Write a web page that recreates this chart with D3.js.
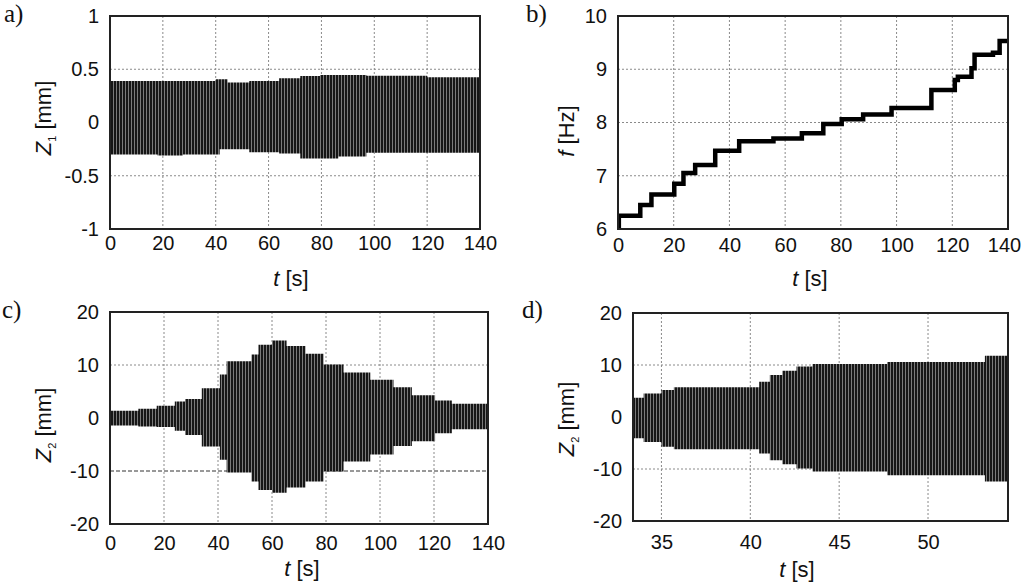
<!DOCTYPE html>
<html>
<head>
<meta charset="utf-8">
<script src="https://cdn.jsdelivr.net/npm/d3@7"></script>
<style>
  body { margin: 0; background: #fff; }
  svg { display: block; }
</style>
</head>
<body>
<script>
// panel a) - envelope of Z1 response (steps read from the picture)
const A_T     = [0, 18, 27.6, 40, 41.5, 44.5, 52.7, 64, 68, 72, 79.5, 86.4, 97, 120, 140];
const A_UPPER = [0.39, 0.39, 0.39, 0.405, 0.405, 0.375, 0.39, 0.415, 0.415, 0.437, 0.446, 0.446, 0.44, 0.425, 0.425];
const A_LOWER = [-0.30, -0.31, -0.30, -0.30, -0.25, -0.25, -0.28, -0.29, -0.29, -0.337, -0.337, -0.32, -0.283, -0.283, -0.283];

// panel b) - excitation frequency steps
const B_T = [0, 0.3, 8, 12, 20.2, 23.5, 27.7, 34.9, 43.5, 55.8, 66, 73.7, 80.3, 88, 98.2, 112.5, 120.9, 122, 126.9, 128, 134.6, 137, 140];
const B_F = [6.0, 6.25, 6.45, 6.65, 6.85, 7.05, 7.2, 7.47, 7.65, 7.7, 7.8, 7.97, 8.06, 8.15, 8.27, 8.61, 8.8, 8.86, 9.02, 9.27, 9.31, 9.53, 9.53];

// panel c) - envelope of Z2 response
const C_T     = [0, 10.5, 17.3, 24, 27.8, 34, 40.7, 43.2, 52.4, 55, 60, 65.4, 72.4, 79.1, 86.5, 96.4, 105, 111.8, 120.4, 126.6, 140];
const C_UPPER = [1.36, 1.74, 2.3, 3.1, 3.6, 5.6, 8.2, 10.7, 12, 13.8, 14.6, 13.6, 12.1, 10.1, 8.6, 7.2, 5.8, 4.3, 3.3, 2.7, 2.7];
const C_LOWER = [-1.4, -1.6, -1.7, -2.4, -3.2, -5.4, -7.9, -10.3, -12, -13.6, -14.1, -13.1, -12, -10.1, -8.2, -6.9, -5.3, -4.4, -2.9, -2.1, -2.1];

// panel d) - zoom of Z2 between 33 and 55 s
const D_T     = [33.4, 34, 35, 35.7, 40.5, 41.1, 41.8, 42.6, 43.5, 47.7, 53.2, 54.5];
const D_UPPER = [3.7, 4.5, 5.2, 5.7, 6.8, 8.1, 8.9, 9.7, 10.2, 10.6, 11.8, 11.8];
const D_LOWER = [-4.1, -4.8, -5.7, -6.2, -7.0, -8.3, -9.1, -9.9, -10.5, -11.2, -12.4, -12.4];

// tick labels
const T_TICKS  = [0, 20, 40, 60, 80, 100, 120, 140];
const D_TICKS  = [35, 40, 45, 50];
const Z1_TICKS = [-1, -0.5, 0, 0.5, 1];
const F_TICKS  = [6, 7, 8, 9, 10];
const Z2_TICKS = [-20, -10, 0, 10, 20];

const WIDTH = 1023, HEIGHT = 583;
const SANS = "'Liberation Sans', Arial, sans-serif";
const SERIF = "'Liberation Serif', 'Times New Roman', serif";

const svg = d3.select("body").append("svg")
    .attr("width", WIDTH)
    .attr("height", HEIGHT);

// dense oscillation look: dark fill with thin light stripes
const defs = svg.append("defs");
const pat = defs.append("pattern")
    .attr("id", "osc")
    .attr("patternUnits", "userSpaceOnUse")
    .attr("width", 3)
    .attr("height", 10);
pat.append("rect").attr("width", 3).attr("height", 10).attr("fill", "#161616");
pat.append("rect").attr("x", 2).attr("width", 1).attr("height", 10).attr("fill", "#7a7a7a");

function panel(p) {
    const x = d3.scaleLinear().domain(p.xDomain).range([p.left, p.right]);
    const y = d3.scaleLinear().domain(p.yDomain).range([p.bottom, p.top]);
    const g = svg.append("g");

    defs.append("clipPath").attr("id", "clip-" + p.id)
        .append("rect")
        .attr("x", p.left).attr("y", p.top)
        .attr("width", p.right - p.left).attr("height", p.bottom - p.top);

    // dotted grid
    g.append("g").selectAll("line")
        .data(p.xTicks.filter(d => x(d) > p.left + 2 && x(d) < p.right - 2))
        .enter().append("line")
            .attr("x1", d => x(d)).attr("x2", d => x(d))
            .attr("y1", p.top).attr("y2", p.bottom)
            .attr("stroke", "#8a8a8a").attr("stroke-width", 1)
            .attr("stroke-dasharray", "2,2");
    g.append("g").selectAll("line")
        .data(p.yTicks.filter(d => y(d) > p.top + 2 && y(d) < p.bottom - 2))
        .enter().append("line")
            .attr("x1", p.left).attr("x2", p.right)
            .attr("y1", d => y(d)).attr("y2", d => y(d))
            .attr("stroke", d => (p.darkGrid === d ? "#333" : "#8a8a8a"))
            .attr("stroke-width", 1)
            .attr("stroke-dasharray", d => (p.darkGrid === d ? "4,2" : "2,2"));

    // data
    const plot = g.append("g").attr("clip-path", "url(#clip-" + p.id + ")");
    if (p.upper) {
        const rows = p.t.map((t, i) => ({t: t, hi: p.upper[i], lo: p.lower[i]}));
        const area = d3.area()
            .curve(d3.curveStepAfter)
            .x(d => x(d.t))
            .y0(d => y(d.lo))
            .y1(d => y(d.hi));
        plot.append("path")
            .datum(rows)
            .attr("d", area)
            .attr("fill", "url(#osc)");
    } else {
        const rows = p.t.map((t, i) => ({t: t, v: p.values[i]}));
        const line = d3.line()
            .curve(d3.curveStepAfter)
            .x(d => x(d.t))
            .y(d => y(d.v));
        plot.append("path")
            .datum(rows)
            .attr("d", line)
            .attr("fill", "none")
            .attr("stroke", "#000")
            .attr("stroke-width", 4.5)
            .attr("stroke-linecap", "square");
    }

    // frame
    g.append("rect")
        .attr("x", p.left).attr("y", p.top)
        .attr("width", p.right - p.left).attr("height", p.bottom - p.top)
        .attr("fill", "none").attr("stroke", "#222").attr("stroke-width", 2);

    // axes (labels only)
    const xa = g.append("g")
        .attr("transform", "translate(0," + p.bottom + ")")
        .call(d3.axisBottom(x).tickValues(p.xTicks).tickSize(0).tickPadding(p.xPad)
            .tickFormat(d => String(d)));
    const ya = g.append("g")
        .attr("transform", "translate(" + p.left + ",0)")
        .call(d3.axisLeft(y).tickValues(p.yTicks).tickSize(0).tickPadding(11)
            .tickFormat(d => String(d)));
    [xa, ya].forEach(a => {
        a.select(".domain").remove();
        a.selectAll("text")
            .attr("font-family", SANS)
            .attr("font-size", "20px")
            .attr("fill", "#111");
    });
    // keep the last label inside the page
    if (p.lastShift) {
        xa.selectAll(".tick:last-of-type text").attr("dx", p.lastShift);
    }

    // x label
    const xl = g.append("text")
        .attr("x", p.xLabelX).attr("y", p.xLabelY)
        .attr("text-anchor", "middle")
        .attr("font-family", SANS).attr("font-size", "22px").attr("fill", "#111");
    xl.append("tspan").attr("font-style", "italic").text("t");
    xl.append("tspan").text(" [s]");

    // y label
    const yl = g.append("text")
        .attr("transform", "translate(" + p.yLabelX + "," + p.yLabelY + ") rotate(-90)")
        .attr("text-anchor", "middle")
        .attr("font-family", SANS).attr("font-size", "22px").attr("fill", "#111");
    yl.append("tspan").attr("font-style", "italic").text(p.yVar);
    if (p.ySub) {
        yl.append("tspan").attr("font-size", "11px").attr("dy", 5).text(p.ySub);
        yl.append("tspan").attr("dy", -5).text(" " + p.yUnit);
    } else {
        yl.append("tspan").text(" " + p.yUnit);
    }

    // panel letter
    g.append("text")
        .attr("x", p.tagX).attr("y", p.tagY)
        .attr("font-family", SERIF).attr("font-size", "25px").attr("fill", "#111")
        .text(p.tag);
}

panel({id: "a", tag: "a)", tagX: 4, tagY: 22,
    left: 110, right: 480, top: 16, bottom: 229,
    xDomain: [0, 140], yDomain: [-1, 1], xTicks: T_TICKS, yTicks: Z1_TICKS, xPad: 7,
    t: A_T, upper: A_UPPER, lower: A_LOWER,
    xLabelX: 291, xLabelY: 286, yLabelX: 51, yLabelY: 118, yVar: "Z", ySub: "1", yUnit: "[mm]"});

panel({id: "b", tag: "b)", tagX: 526, tagY: 22,
    left: 618, right: 1008, top: 16, bottom: 229,
    xDomain: [0, 140], yDomain: [6, 10], xTicks: T_TICKS, yTicks: F_TICKS, xPad: 9,
    lastShift: -4,
    t: B_T, values: B_F,
    xLabelX: 810, xLabelY: 286, yLabelX: 574, yLabelY: 131, yVar: "f", yUnit: "[Hz]"});

panel({id: "c", tag: "c)", tagX: 2, tagY: 318,
    left: 110, right: 488, top: 312, bottom: 524,
    xDomain: [0, 140], yDomain: [-20, 20], xTicks: T_TICKS, yTicks: Z2_TICKS, xPad: 12,
    darkGrid: -10,
    t: C_T, upper: C_UPPER, lower: C_LOWER,
    xLabelX: 302, xLabelY: 576, yLabelX: 51, yLabelY: 425, yVar: "Z", ySub: "2", yUnit: "[mm]"});

panel({id: "d", tag: "d)", tagX: 522, tagY: 318,
    left: 633, right: 1008, top: 313, bottom: 521,
    xDomain: [33.4, 54.5], yDomain: [-20, 20], xTicks: D_TICKS, yTicks: Z2_TICKS, xPad: 14,
    t: D_T, upper: D_UPPER, lower: D_LOWER,
    xLabelX: 797, xLabelY: 577, yLabelX: 574, yLabelY: 419, yVar: "Z", ySub: "2", yUnit: "[mm]"});
</script>
</body>
</html>
